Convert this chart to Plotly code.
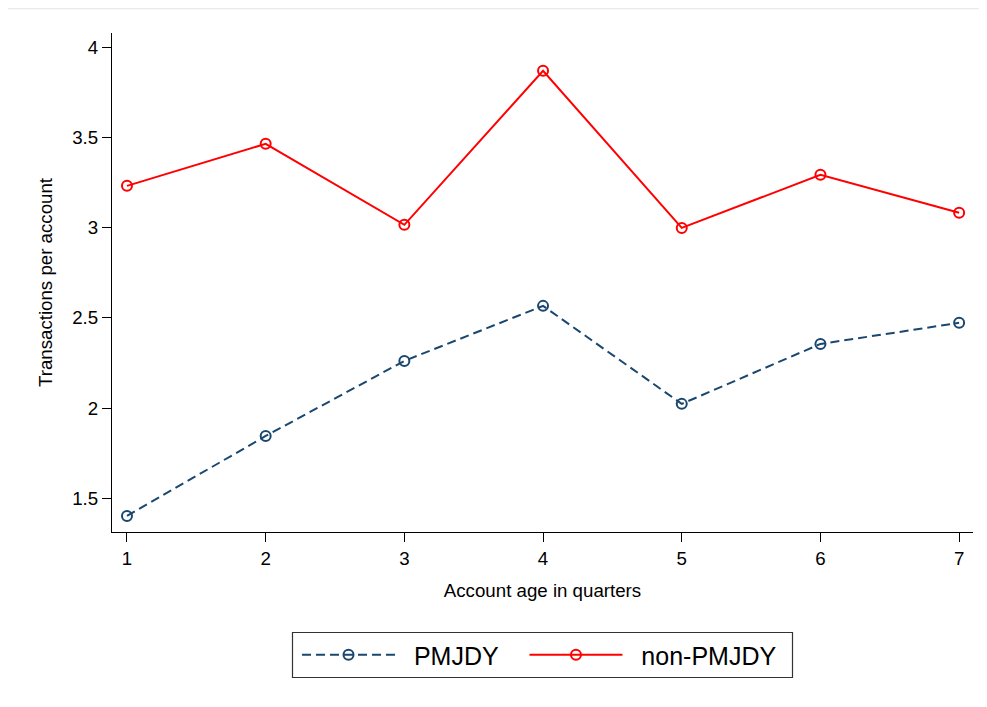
import plotly.graph_objects as go

quarters = [1, 2, 3, 4, 5, 6, 7]
pmjdy = [1.402, 1.845, 2.261, 2.566, 2.023, 2.355, 2.472]
non_pmjdy = [3.231, 3.464, 3.015, 3.869, 2.998, 3.292, 3.082]
y_ticks = [1.5, 2, 2.5, 3, 3.5, 4]
y_ticklabels = ["1.5", "2", "2.5", "3", "3.5", "4"]
x_title = "Account age in quarters"
y_title = "Transactions per account"

FONT = "Liberation Sans, Arial, sans-serif"
NAVY = "#1a476f"
RED = "#ff0000"
NB = "\u00a0"

fig = go.Figure()
fig.add_trace(go.Scatter(
    x=quarters, y=pmjdy, mode="lines+markers", name=NB * 2 + "PMJDY" + NB * 3,
    line=dict(color=NAVY, width=2, dash="9px,5px"),
    marker=dict(symbol="circle-open", size=10, color=NAVY, line=dict(width=2, color=NAVY)),
))
fig.add_trace(go.Scatter(
    x=quarters, y=non_pmjdy, mode="lines+markers", name=NB * 2 + "non-PMJDY",
    line=dict(color=RED, width=2),
    marker=dict(symbol="circle-open", size=10, color=RED, line=dict(width=2, color=RED)),
))

# page body adds an 8px offset; targets below are in screen pixels
OFF = 8
W, H = 987, 707
L = 112 - OFF
T = 33 - OFF
R = W - (973 - OFF)
B = H - (532 - OFF)
pw, ph = W - L - R, H - T - B

def px_x(p):
    return (p - OFF - L) / pw

def px_y(p):
    return (H - B - (p - OFF)) / ph

fig.update_layout(
    width=W, height=H,
    margin=dict(l=L, r=R, t=T, b=B, pad=0),
    paper_bgcolor="white", plot_bgcolor="white",
    font=dict(family=FONT, size=18.7, color="#000000"),
    showlegend=True,
    legend=dict(
        orientation="h", x=px_x(297), xanchor="left", y=px_y(655), yanchor="middle",
        font=dict(size=25, family=FONT, color="#000000"),
        itemwidth=93, borderwidth=0, bgcolor="rgba(0,0,0,0)",
        itemclick=False, itemdoubleclick=False,
    ),
    xaxis=dict(
        range=[0.892, 7.10], tickvals=quarters, ticktext=[str(q) for q in quarters],
        showgrid=False, zeroline=False, showline=True, linecolor="#000000", linewidth=1.2,
        ticks="outside", ticklen=9, tickwidth=1.2, tickcolor="#000000",
        tickfont=dict(size=18.7, family=FONT),
        title=dict(text=x_title, font=dict(size=18.7, family=FONT), standoff=16),
    ),
    yaxis=dict(
        range=[1.313, 4.078], tickvals=y_ticks, ticktext=y_ticklabels,
        showgrid=False, zeroline=False, showline=True, linecolor="#000000", linewidth=1.2,
        ticks="outside", ticklen=9, tickwidth=1.2, tickcolor="#000000",
        tickfont=dict(size=18.7, family=FONT), tickangle=0,
        title=dict(text=y_title, font=dict(size=18.7, family=FONT), standoff=14),
    ),
    shapes=[
        dict(type="rect", xref="paper", yref="paper",
             x0=px_x(292.5), x1=px_x(792.5), y0=px_y(632.5), y1=px_y(677.5),
             line=dict(color="#333333", width=1.2), fillcolor="rgba(0,0,0,0)", layer="below"),
        dict(type="line", xref="paper", yref="paper",
             x0=px_x(8), x1=px_x(987), y0=px_y(8.5), y1=px_y(8.5),
             line=dict(color="#e6ecec", width=1.5)),
    ],
)

fig.write_html("out.html")
